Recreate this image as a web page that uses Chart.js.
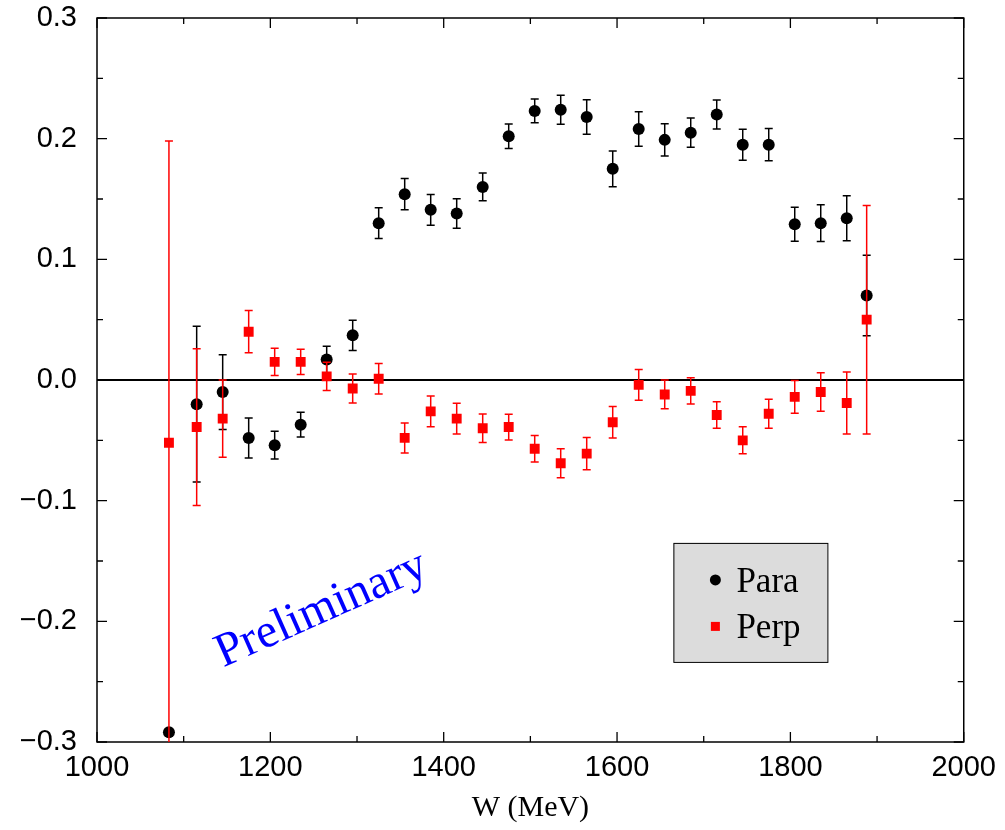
<!DOCTYPE html>
<html>
<head>
<meta charset="utf-8">
<script src="https://cdn.jsdelivr.net/npm/chart.js@4.4.1/dist/chart.umd.min.js"></script>
<style>
  html, body { margin: 0; padding: 0; background: #fff; }
  #wrap { width: 1005px; height: 830px; }
</style>
</head>
<body>
<div id="wrap"><canvas id="asymChart" width="1005" height="830"></canvas></div>
<script>
// W (MeV) of each bin
const energies = [1083, 1115, 1145, 1175, 1205, 1235, 1265, 1295, 1325, 1355,
  1385, 1415, 1445, 1475, 1505, 1535, 1565, 1595, 1625, 1655,
  1685, 1715, 1745, 1775, 1805, 1835, 1865, 1888];

const paraValues = [-0.292, -0.020, -0.010, -0.048, -0.054, -0.037, 0.017, 0.037, 0.130, 0.154,
  0.141, 0.138, 0.160, 0.202, 0.223, 0.224, 0.218, 0.175, 0.208, 0.199,
  0.205, 0.220, 0.195, 0.195, 0.129, 0.130, 0.134, 0.070];
const paraErrors = [0.003, 0.0645, 0.031, 0.0166, 0.0115, 0.0103, 0.011, 0.0125, 0.0128, 0.013,
  0.0127, 0.0123, 0.0115, 0.0101, 0.0098, 0.012, 0.0143, 0.0148, 0.0143, 0.0133,
  0.0122, 0.012, 0.0128, 0.0134, 0.0141, 0.0153, 0.0187, 0.0333];

const perpValues = [-0.052, -0.039, -0.032, 0.040, 0.015, 0.015, 0.003, -0.007, 0.001, -0.048,
  -0.026, -0.032, -0.040, -0.039, -0.057, -0.069, -0.061, -0.035, -0.004, -0.012,
  -0.009, -0.029, -0.050, -0.028, -0.014, -0.010, -0.019, 0.050];
const perpErrors = [0.25, 0.065, 0.032, 0.0175, 0.0113, 0.0105, 0.0117, 0.012, 0.0126, 0.0124,
  0.0127, 0.0127, 0.0118, 0.0107, 0.011, 0.012, 0.0133, 0.013, 0.0128, 0.0119,
  0.0108, 0.011, 0.0112, 0.012, 0.0135, 0.016, 0.0257, 0.0947];

const xTicks = [1000, 1200, 1400, 1600, 1800, 2000];
const yTicks = [-0.3, -0.2, -0.1, 0.0, 0.1, 0.2, 0.3];
const seriesNames = ["Para", "Perp"];

function toPoints(values) {
  return energies.map((w, i) => ({ x: w, y: values[i] }));
}

function formatY(v) {
  if (Math.abs(v) < 1e-9) return "0.0";
  return v.toFixed(1).replace("-", "\u2212");
}

// error bars under each dataset's markers
const errorBars = {
  id: "errorBars",
  beforeDatasetDraw(chart, args) {
    const ds = chart.data.datasets[args.index];
    const errs = ds.errors;
    if (!errs) return;
    const { ctx, chartArea, scales } = chart;
    ctx.save();
    ctx.beginPath();
    ctx.rect(chartArea.left, chartArea.top, chartArea.right - chartArea.left, chartArea.bottom - chartArea.top);
    ctx.clip();
    ctx.strokeStyle = ds.barColor;
    ctx.lineWidth = 1.5;
    ds.data.forEach((p, i) => {
      const x = scales.x.getPixelForValue(p.x);
      const y1 = scales.y.getPixelForValue(p.y + errs[i]);
      const y2 = scales.y.getPixelForValue(p.y - errs[i]);
      ctx.beginPath();
      ctx.moveTo(x, y1);
      ctx.lineTo(x, y2);
      ctx.moveTo(x - 4, y1);
      ctx.lineTo(x + 4, y1);
      ctx.moveTo(x - 4, y2);
      ctx.lineTo(x + 4, y2);
      ctx.stroke();
    });
    ctx.restore();
  },
};

// frame, inward ticks, zero line, legend box and the "Preliminary" stamp
const decorations = {
  id: "decorations",
  beforeDatasetsDraw(chart) {
    const { ctx, chartArea: a, scales } = chart;
    const xs = scales.x, ys = scales.y;
    ctx.save();
    ctx.strokeStyle = "#000";

    ctx.lineWidth = 2;
    const y0 = ys.getPixelForValue(0);
    ctx.beginPath();
    ctx.moveTo(a.left, y0);
    ctx.lineTo(a.right, y0);
    ctx.stroke();

    ctx.lineWidth = 1.3;
    for (let w = 1000; w <= 2000; w += 100) {
      const x = xs.getPixelForValue(w);
      const len = w % 200 === 0 ? 10 : 6;
      ctx.beginPath();
      ctx.moveTo(x, a.bottom);
      ctx.lineTo(x, a.bottom - len);
      ctx.moveTo(x, a.top);
      ctx.lineTo(x, a.top + len);
      ctx.stroke();
    }
    for (let k = -6; k <= 6; k++) {
      const y = ys.getPixelForValue(k * 0.05);
      const len = k % 2 === 0 ? 10 : 6;
      ctx.beginPath();
      ctx.moveTo(a.left, y);
      ctx.lineTo(a.left + len, y);
      ctx.moveTo(a.right, y);
      ctx.lineTo(a.right - len, y);
      ctx.stroke();
    }

    ctx.lineWidth = 1.5;
    ctx.strokeRect(a.left, a.top, a.right - a.left, a.bottom - a.top);
    ctx.restore();
  },
  afterDatasetsDraw(chart) {
    const { ctx, scales } = chart;
    const xs = scales.x, ys = scales.y;
    ctx.save();

    // legend
    const bx = xs.getPixelForValue(1665), by = ys.getPixelForValue(-0.135);
    const bw = 154, bh = 119;
    ctx.fillStyle = "#dcdcdc";
    ctx.fillRect(bx, by, bw, bh);
    ctx.strokeStyle = "#000";
    ctx.lineWidth = 1;
    ctx.strokeRect(bx + 0.5, by + 0.5, bw, bh);

    ctx.fillStyle = "#000";
    ctx.beginPath();
    ctx.arc(bx + 42, by + 37, 5.5, 0, Math.PI * 2);
    ctx.fill();
    ctx.fillStyle = "#ff0000";
    ctx.fillRect(bx + 37.5, by + 79, 9, 9);

    ctx.fillStyle = "#000";
    ctx.font = "35px 'Liberation Serif', 'Times New Roman', serif";
    ctx.textAlign = "left";
    ctx.textBaseline = "alphabetic";
    ctx.fillText(seriesNames[0], bx + 63, by + 49);
    ctx.fillText(seriesNames[1], bx + 63, by + 95);

    // Preliminary
    ctx.translate(xs.getPixelForValue(1265), ys.getPixelForValue(-0.2));
    ctx.rotate(-24 * Math.PI / 180);
    ctx.fillStyle = "#0000ff";
    ctx.font = "48px 'Liberation Serif', 'Times New Roman', serif";
    ctx.textAlign = "center";
    ctx.fillText("Preliminary", 0, 0);
    ctx.restore();
  },
};

document.addEventListener("DOMContentLoaded", function () {
  renderAsymmetryChart();
});

function renderAsymmetryChart() {
  const ctx = document.getElementById("asymChart");
  if (!ctx) return;

  const tickFont = { family: "'Liberation Sans', Arial, sans-serif", size: 29 };

  new Chart(ctx, {
    type: "scatter",
    data: {
      datasets: [
        {
          label: seriesNames[0],
          data: toPoints(paraValues),
          errors: paraErrors,
          barColor: "#000",
          backgroundColor: "#000",
          borderWidth: 0,
          pointStyle: "circle",
          pointRadius: 6,
          pointHoverRadius: 6,
          order: 2,
        },
        {
          label: seriesNames[1],
          data: toPoints(perpValues),
          errors: perpErrors,
          barColor: "#ff0000",
          backgroundColor: "#ff0000",
          borderWidth: 0,
          pointStyle: "rect",
          pointRadius: 7,
          pointHoverRadius: 7,
          order: 1,
        },
      ],
    },
    options: {
      responsive: false,
      animation: false,
      layout: { padding: { top: 0, right: 40, left: 0, bottom: 0 } },
      plugins: {
        legend: { display: false },
        tooltip: { enabled: false },
      },
      scales: {
        x: {
          type: "linear",
          min: 1000,
          max: 2000,
          afterBuildTicks: (scale) => {
            scale.ticks = xTicks.map((v) => ({ value: v }));
          },
          afterFit: (scale) => {
            scale.height = 88;
          },
          grid: { display: false, drawTicks: false },
          border: { display: false },
          ticks: {
            color: "#000",
            font: tickFont,
            padding: 9,
            maxRotation: 0,
            callback: (v) => String(v),
          },
          title: {
            display: true,
            text: "W (MeV)",
            color: "#000",
            font: { family: "'Liberation Serif', 'Times New Roman', serif", size: 30 },
            padding: { top: 0, bottom: 4 },
          },
        },
        y: {
          type: "linear",
          min: -0.3,
          max: 0.3,
          afterBuildTicks: (scale) => {
            scale.ticks = yTicks.map((v) => ({ value: v }));
          },
          afterFit: (scale) => {
            scale.width = 97;
            scale.paddingTop = 18;
            scale.paddingBottom = 0;
          },
          grid: { display: false, drawTicks: false },
          border: { display: false },
          ticks: {
            color: "#000",
            font: tickFont,
            padding: 20,
            callback: (v) => formatY(v),
          },
        },
      },
    },
    plugins: [errorBars, decorations],
  });
}
</script>
</body>
</html>
